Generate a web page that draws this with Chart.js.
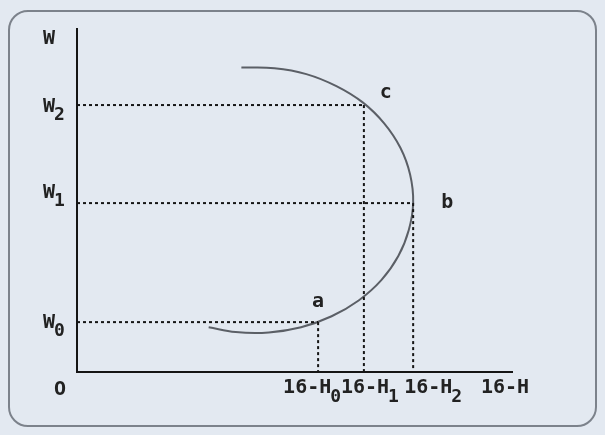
<!DOCTYPE html>
<html>
<head>
<meta charset="utf-8">
<script src="https://cdn.jsdelivr.net/npm/chart.js@4"></script>
<style>
  html, body { margin: 0; padding: 0; background: #e3e9f1; }
  #frame {
    position: absolute; left: 8px; top: 10px; width: 585px; height: 413px;
    border: 2px solid #7c828b; border-radius: 20px;
  }
  #wrap { position: absolute; left: 0; top: 0; width: 605px; height: 435px; }
</style>
</head>
<body>
<div id="frame"></div>
<div id="wrap"><canvas id="supplyChart" width="605" height="435"></canvas></div>
<script>
// Backward-bending labour supply curve (x: 16-H, y: wage W)
const curveX = [30.2, 36.4, 44.0, 51.4, 58.4, 64.6, 69.8, 73.7, 76.1, 77.1, 76.4, 74.2, 70.5, 65.6, 59.5, 52.6, 45.3, 37.7];
const curveY = [13.0, 11.6, 11.5, 13.0, 16.2, 20.8, 26.7, 33.7, 41.3, 49.3, 57.4, 65.1, 72.2, 78.3, 83.1, 86.6, 88.3, 88.5];

// the three marked points a, b, c
const pointNames = ["a", "b", "c"];
const pointX = [55.3, 77.1, 65.8];
const pointY = [14.5, 49.1, 77.6];

// axis labels
const wageLabels = ["W", "W0", "W1", "W2"];
const wageValues = [100, 14.5, 49.1, 77.6];
const hourLabels = ["16-H0", "16-H1", "16-H2", "16-H"];
const hourValues = [55.3, 65.8, 77.1, 100];

const curve = curveX.map((x, i) => ({ x: x, y: curveY[i] }));

// dashed guides from each point to both axes
const guides = [];
pointX.forEach((x, i) => {
    const y = pointY[i];
    guides.push({
        data: [{ x: 0, y: y }, { x: x, y: y }],
        borderColor: "#151515", borderWidth: 2, borderDash: [3, 3],
        pointRadius: 0, showLine: true, tension: 0
    });
    guides.push({
        data: [{ x: x, y: y }, { x: x, y: 0 }],
        borderColor: "#151515", borderWidth: 2, borderDash: [3, 3],
        pointRadius: 0, showLine: true, tension: 0
    });
});

// draws axes and all text labels
const labelPlugin = {
    id: "labels",
    afterDatasetsDraw(chart) {
        const ctx = chart.ctx;
        const xs = chart.scales.x;
        const ys = chart.scales.y;
        const x0 = xs.getPixelForValue(0);
        const y0 = ys.getPixelForValue(0);

        ctx.save();
        ctx.strokeStyle = "#151515";
        ctx.lineWidth = 2;
        ctx.beginPath();
        ctx.moveTo(x0, ys.getPixelForValue(100));
        ctx.lineTo(x0, y0);
        ctx.lineTo(xs.getPixelForValue(100), y0);
        ctx.stroke();

        ctx.fillStyle = "#222222";
        ctx.textBaseline = "middle";
        ctx.textAlign = "left";
        const main = "bold 20px 'DejaVu Sans Mono'";
        const sub = "bold 18px 'DejaVu Sans Mono'";

        // label text with a trailing subscript digit (W2, 16-H1 ...)
        function drawSub(text, x, y) {
            let b = text, d = "";
            if (/[WH]\d$/.test(text)) { b = text.slice(0, -1); d = text.slice(-1); }
            ctx.font = main;
            ctx.fillText(b, x, y);
            const w = ctx.measureText(b).width;
            if (d) {
                ctx.font = sub;
                ctx.fillText(d, x + w - 1, y + 9);
            }
        }

        // wage labels on the left
        const wOffsets = [10.5, 0.5, -10.5, 1.5];
        wageLabels.forEach((t, i) => {
            drawSub(t, 43, ys.getPixelForValue(wageValues[i]) + wOffsets[i]);
        });

        // hour labels under the x axis
        const hOffsets = [-35, -23, -9, -32];
        hourLabels.forEach((t, i) => {
            drawSub(t, xs.getPixelForValue(hourValues[i]) + hOffsets[i], y0 + 16);
        });

        // origin
        ctx.font = main;
        ctx.textAlign = "center";
        ctx.fillText("O", x0 - 17, y0 + 18);

        // point names
        const pOffsets = [[0, -20], [34, 0], [22, -12]];
        pointNames.forEach((t, i) => {
            ctx.fillText(t, xs.getPixelForValue(pointX[i]) + pOffsets[i][0],
                ys.getPixelForValue(pointY[i]) + pOffsets[i][1]);
        });
        ctx.restore();
    }
};

const ctx = document.getElementById("supplyChart").getContext("2d");
new Chart(ctx, {
    type: "scatter",
    data: {
        datasets: guides.concat([{
            data: curve,
            borderColor: "#5b5f66",
            borderWidth: 2,
            pointRadius: 0,
            showLine: true,
            tension: 0.4
        }])
    },
    options: {
        responsive: false,
        animation: false,
        layout: { padding: { left: 77, right: 92, top: 28, bottom: 63 } },
        plugins: { legend: { display: false }, tooltip: { enabled: false } },
        scales: {
            x: { type: "linear", min: 0, max: 100, display: false },
            y: { type: "linear", min: 0, max: 100, display: false }
        }
    },
    plugins: [labelPlugin]
});
</script>
</body>
</html>
